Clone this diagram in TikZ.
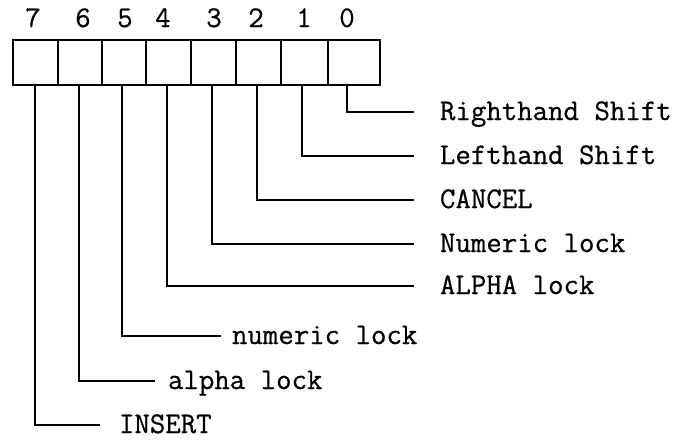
\documentclass[tikz,border=0pt]{standalone}
\usepackage{fontspec}
\setmonofont{Latin Modern Mono}[FakeBold=0.6]
\begin{document}
\begin{tikzpicture}[x=1pt,y=-1pt,line width=1.4pt,
  cell/.style={draw, minimum height=45pt, inner sep=0pt, outer sep=0pt},
  txt/.style={font=\ttfamily\fontsize{30}{34}\selectfont, inner sep=0pt, outer sep=0pt},
  lbl/.style={txt, anchor=west, text height=20pt, text depth=4pt},
  dig/.style={txt, anchor=base},
  wire/.style={line width=1.4pt}]
\useasboundingbox (0,0) rectangle (680,440);
% register cells
\node[cell, minimum width=45pt] (b7) at (35.5,62.5) {};
\node[cell, minimum width=44pt] (b6) at (80,62.5) {};
\node[cell, minimum width=44pt] (b5) at (124,62.5) {};
\node[cell, minimum width=45pt] (b4) at (168.5,62.5) {};
\node[cell, minimum width=45pt] (b3) at (213.5,62.5) {};
\node[cell, minimum width=45pt] (b2) at (258.5,62.5) {};
\node[cell, minimum width=47pt] (b1) at (304.5,62.5) {};
\node[cell, minimum width=52pt] (b0) at (354,62.5) {};
% bit numbers
\node[dig] (d7) at (33,27) {7};
\node[dig] (d6) at (83,27) {6};
\node[dig] (d5) at (125,27) {5};
\node[dig] (d4) at (163,27) {4};
\node[dig] (d3) at (214,27) {3};
\node[dig] (d2) at (256,27) {2};
\node[dig] (d1) at (304,27) {1};
\node[dig] (d0) at (347,27) {0};
% labels
\node[lbl] (l0) at (440,112) {Righthand Shift};
\node[lbl] (l1) at (440,156) {Lefthand Shift};
\node[lbl] (l2) at (440,200) {CANCEL};
\node[lbl] (l3) at (440,244) {Numeric lock};
\node[lbl] (l4) at (440,286) {ALPHA lock};
\node[lbl] (l5) at (232,336) {numeric lock};
\node[lbl] (l6) at (168,381) {alpha lock};
\node[lbl] (l7) at (119,425) {INSERT};
% connectors
\draw[wire, shorten >=26pt] ([xshift=-7pt]b0.south) |- (l0.west);
\draw[wire, shorten >=26pt] ([xshift=-2.5pt]b1.south) |- (l1.west);
\draw[wire, shorten >=26pt] ([xshift=-1.5pt]b2.south) |- (l2.west);
\draw[wire, shorten >=26pt] ([xshift=-1.5pt]b3.south) |- (l3.west);
\draw[wire, shorten >=26pt] ([xshift=-1.5pt]b4.south) |- (l4.west);
\draw[wire, shorten >=11pt] ([xshift=-2pt]b5.south) |- (l5.west);
\draw[wire, shorten >=13pt] ([xshift=-1pt]b6.south) |- (l6.west);
\draw[wire, shorten >=19pt] ([xshift=-0.5pt]b7.south) |- (l7.west);
\end{tikzpicture}
\end{document}
